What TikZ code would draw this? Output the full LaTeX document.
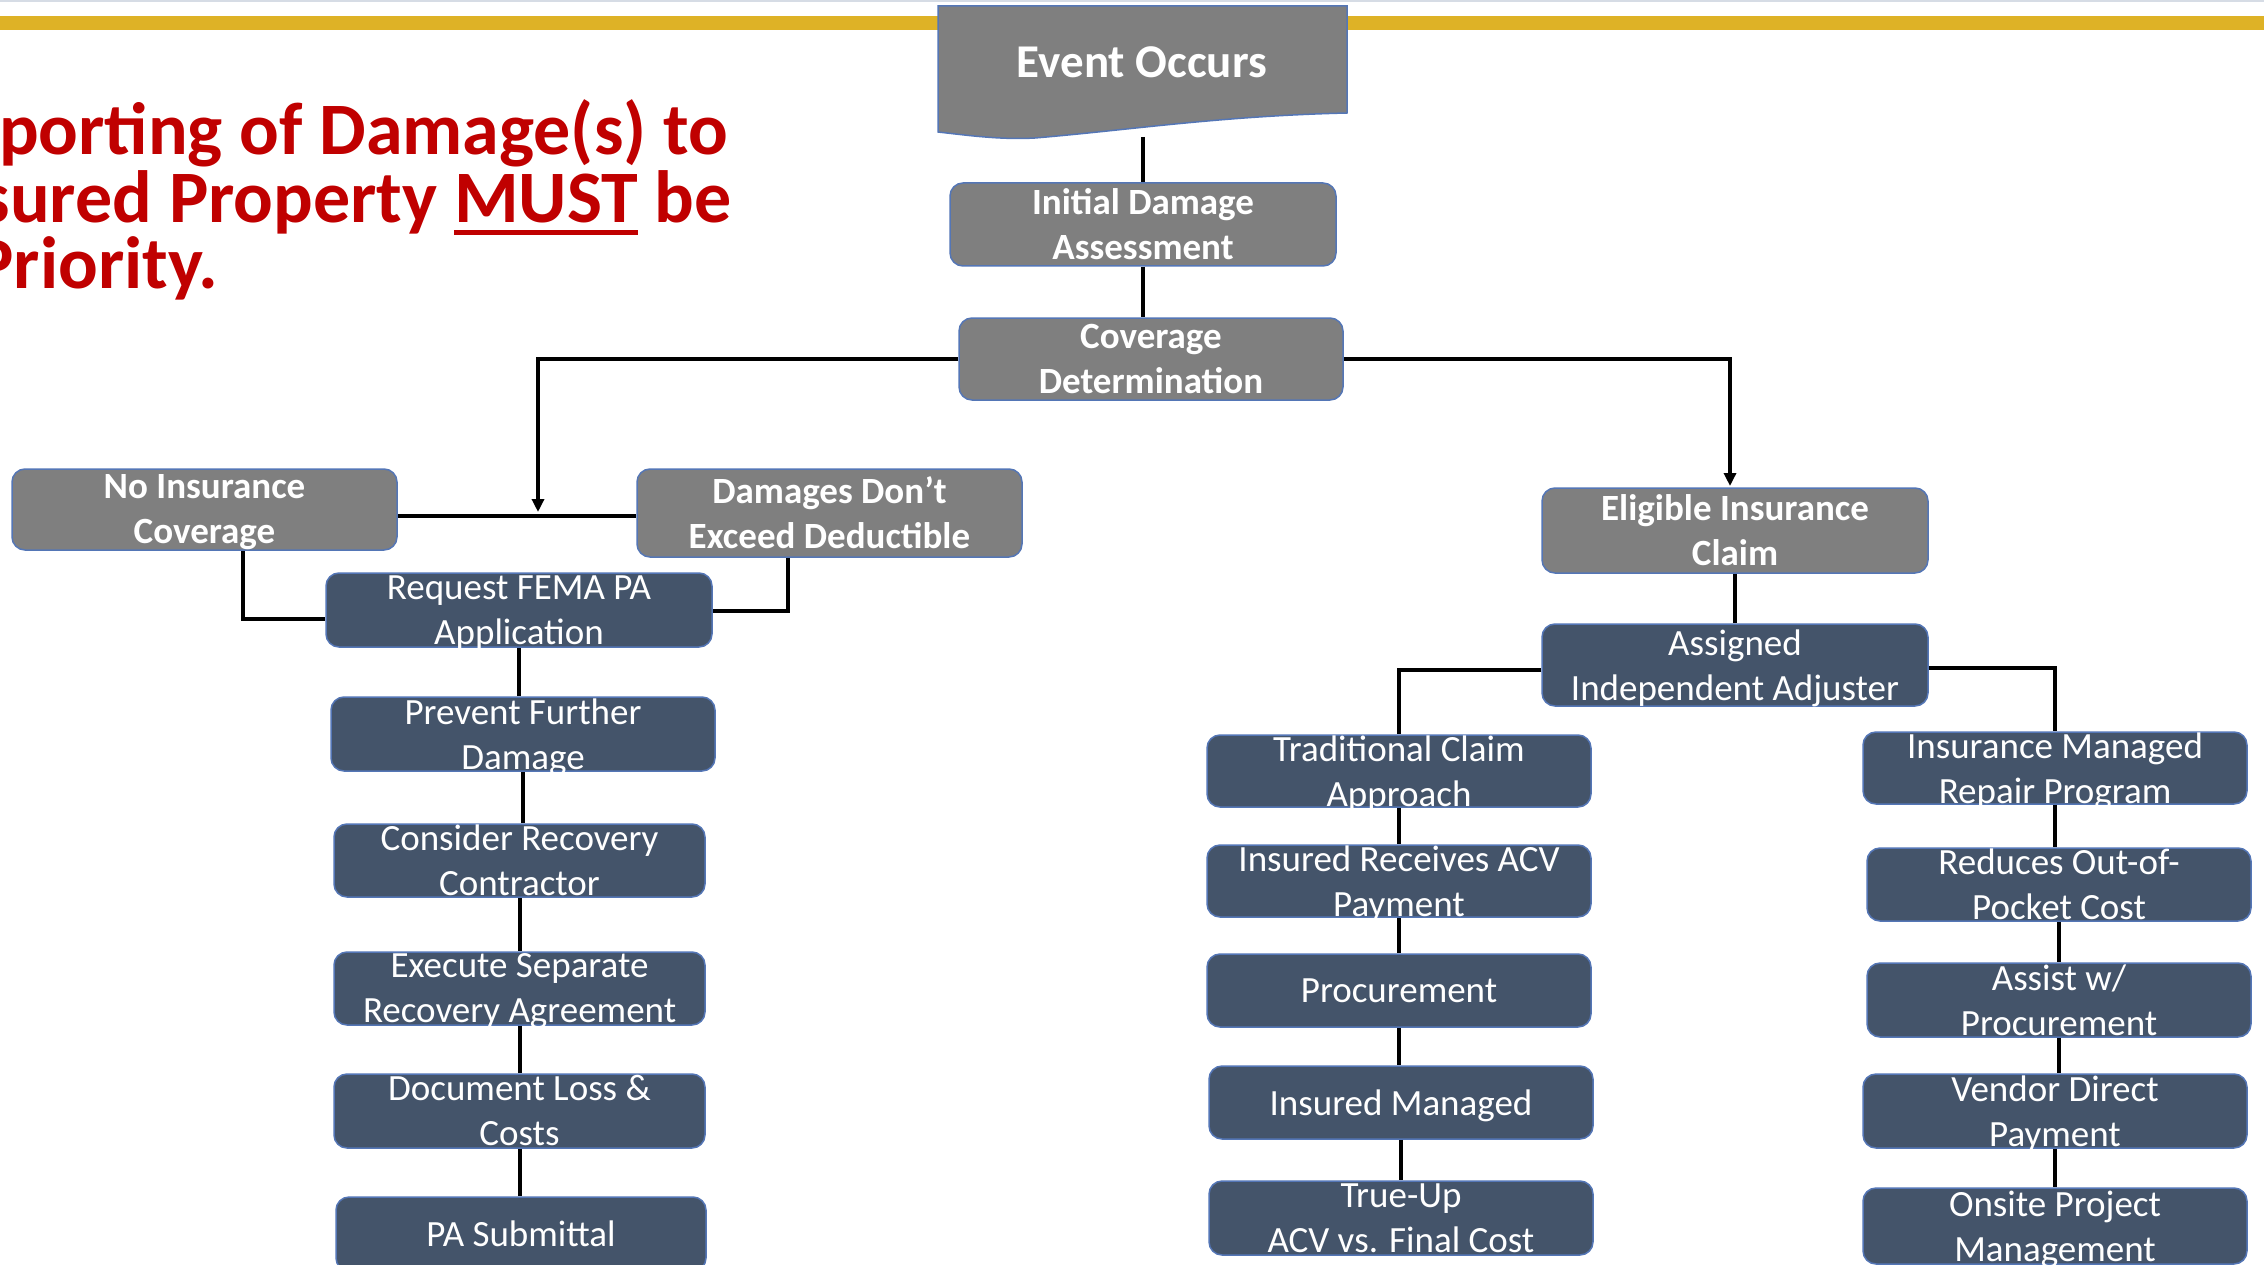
\documentclass[tikz,border=0pt]{standalone}
\usepackage{fontspec}
\setmainfont{Carlito}
\usetikzlibrary{arrows.meta,calc}
\definecolor{gold}{RGB}{222,178,38}
\definecolor{boxgray}{RGB}{127,127,127}
\definecolor{boxdark}{RGB}{68,84,106}
\definecolor{edgeblue}{RGB}{84,118,182}
\definecolor{titlered}{RGB}{192,0,0}
\definecolor{topline}{RGB}{214,220,229}
\newcommand\ulmust[1]{\setbox0\hbox{#1}\rlap{\rule[-12pt]{\wd0}{4.5pt}}\box0\relax}
\tikzset{
  gbox/.style={draw=edgeblue, line width=1.5, fill=boxgray, rounded corners=13, inner sep=0},
  dbox/.style={draw=edgeblue, line width=1.5, fill=boxdark, rounded corners=13, inner sep=0},
  gboxtxt/.style={inner sep=0, text=white, align=center, yshift=-3, font=\bfseries\fontsize{37}{45}\selectfont},
  dboxtxt/.style={inner sep=0, text=white, align=center, yshift=-3, font=\fontsize{37}{45}\selectfont},
  conn/.style={draw=black, line width=4},
  arr/.style={-{Triangle[length=13,width=12]}},
  ttl/.style={anchor=base west, inner sep=0, text=titlered, font=\bfseries\fontsize{74}{67}\selectfont},
}
\newcommand\bx[7]{%
  \node[#1, minimum width=#5, minimum height=#6] (#2) at (#3,#4) {};
  \node[#1txt] (#2-t) at (#2.center) {#7\vphantom{g}};}
\begin{document}
\begin{tikzpicture}[x=1pt,y=-1pt]
\useasboundingbox (0,0) rectangle (2264,1265);
\fill[white] (0,0) rectangle (2264,1265);
% top rules
\draw[topline, line width=2] (0,1) -- (2264,1);
\draw[gold, line width=14] (0,23) -- (2264,23);
% title
\node[ttl] (t1) at (-79,155) {Reporting of Damage(s) to};
\node[ttl] (t2) at (-79,223) {Insured Property \ulmust{MUST} be};
\node[ttl] (t3) at (-79,289) {a Priority.};
% event occurs (document shape)
\path[draw=edgeblue, line width=1.5, fill=boxgray]
  (938,6) -- (1347,6) -- (1347,113)
  .. controls (1220,116) and (1130,130) .. (1035,138)
  .. controls (1000,140) and (965,135) .. (938,132) -- cycle;
\node[inner sep=0, text=white, font=\bfseries\fontsize{47}{56}\selectfont] (ev) at (1142,62) {Event Occurs};
\coordinate (evb) at (1143,137);
% top boxes
\bx{gbox}{init}{1143}{224.5}{386}{83}{Initial Damage\\Assessment}
\bx{gbox}{cov}{1151}{359}{384}{82}{Coverage\\Determination}
\bx{gbox}{noins}{204.5}{509.5}{385}{81}{No Insurance\\Coverage}
\bx{gbox}{dmg}{829.5}{513}{385}{88}{Damages Don’t\\Exceed Deductible}
\bx{gbox}{elig}{1735}{530.5}{386}{85}{Eligible Insurance\\Claim}
\bx{dbox}{assn}{1735}{665}{386}{82}{Assigned\\Independent Adjuster}
% left column
\bx{dbox}{req}{519}{610}{386}{74}{Request FEMA PA\\Application}
\bx{dbox}{prev}{523}{734}{384}{74}{Prevent Further\\Damage}
\bx{dbox}{cons}{519.5}{860.5}{371}{73}{Consider Recovery\\Contractor}
\bx{dbox}{exec}{519.5}{988.5}{371}{73}{Execute Separate\\Recovery Agreement}
\bx{dbox}{doc}{519.5}{1111}{371}{74}{Document Loss \&\\Costs}
\bx{dbox}{pasub}{521}{1234}{370}{74}{PA Submittal}
% middle column
\bx{dbox}{trad}{1399}{771}{384}{72}{Traditional Claim\\Approach}
\bx{dbox}{acv}{1399}{881}{384}{72}{Insured Receives ACV\\Payment}
\bx{dbox}{proc}{1399}{990.5}{384}{73}{Procurement}
\bx{dbox}{insm}{1401}{1102.5}{384}{73}{Insured Managed}
\bx{dbox}{true}{1401}{1218}{384}{74}{True-Up\\ACV vs. Final Cost}
% right column
\bx{dbox}{imrp}{2055}{768}{384}{72}{Insurance Managed\\Repair Program}
\bx{dbox}{redu}{2059}{884.5}{384}{73}{Reduces Out-of-\\Pocket Cost}
\bx{dbox}{asst}{2059}{1000}{384}{74}{Assist w/\\Procurement}
\bx{dbox}{vend}{2055}{1111}{384}{74}{Vendor Direct\\Payment}
\bx{dbox}{onsite}{2055}{1226}{384}{76}{Onsite Project\\Management}
% connectors top
\draw[conn] (evb) -- (init.north);
\draw[conn] (init.south) -- (init.south |- cov.north);
\coordinate (jn) at (538,512);
\coordinate (ej) at (1730,486);
\draw[conn] (noins.east |- 0,516) -- (dmg.west |- 0,516);
\draw[conn, arr] (cov.west) -| (jn);
\draw[conn, arr] (cov.east) -| (ej);
\coordinate (nlk) at (243,619);
\coordinate (dlk) at (788,611);
\draw[conn] (noins.south -| nlk) |- (req.west |- nlk);
\draw[conn] (dmg.south -| dlk) |- (req.east |- dlk);
\draw[conn] (elig.south) -- (assn.north);
\coordinate (al) at (1399,670);
\coordinate (ar) at (2057,668);
\draw[conn] (assn.west |- al) -| (trad.north);
\draw[conn] (assn.east |- ar) -| (imrp.north);
% column connectors
\foreach \a/\b in {req/prev, prev/cons, cons/exec, exec/doc, doc/pasub,
                   trad/acv, acv/proc, proc/insm, insm/true,
                   imrp/redu, redu/asst, asst/vend, vend/onsite}
  \draw[conn] (\a.south) -- (\a.south |- \b.north);
\end{tikzpicture}
\end{document}
